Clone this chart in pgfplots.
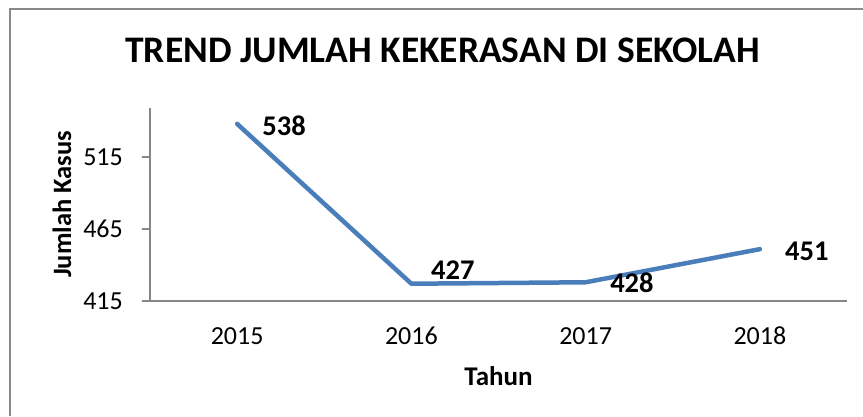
\documentclass[border=0pt]{standalone}
\usepackage{pgfplots}
\pgfplotsset{compat=1.18}
\usepackage{pgfplotstable}
\usepackage{fontspec}
\setmainfont{Carlito}
\definecolor{seriesblue}{HTML}{4A7EBB}
\definecolor{axisgray}{HTML}{868686}
\definecolor{framegray}{HTML}{898989}
\pgfplotstableread{
x y dx dy
0 538 23 -2
1 427 17.6 13.5
2 428 22.4 -0.7
3 451 23 -2.6
}\datatable
\begin{document}
\begin{tikzpicture}
\useasboundingbox (0,0) rectangle (863pt,-416pt);
\draw[framegray, line width=2pt] (10pt,-416pt) -- (10pt,-9pt) -- (863pt,-9pt);
\begin{axis}[
  at={(150pt,-301pt)}, anchor=south west,
  width=697pt, height=193pt, scale only axis,
  xmin=-0.5, xmax=3.5, ymin=415, ymax=549,
  xtick={0,1,2,3}, xticklabels={2015,2016,2017,2018},
  ytick={415,465,515},
  axis x line*=bottom, axis y line*=left,
  axis line style={axisgray, line width=1.5pt},
  tick align=outside, major tick length=8pt,
  ytick style={axisgray, line width=1.5pt},
  xtick style={draw=none},
  /pgf/number format/assume math mode=true,
  ticklabel style={font=\fontsize{26}{30}\selectfont},
  yticklabel style={inner sep=0pt, xshift=-19pt},
  xticklabel style={inner sep=0pt, yshift=-18pt},
  title={TREND JUMLAH KEKERASAN DI SEKOLAH},
  title style={at={(axis description cs:0.4197,1.2668)}, anchor=center, inner sep=0pt, font=\fontsize{37.5}{42}\selectfont\bfseries},
  xlabel={Tahun},
  xlabel style={at={(axis description cs:0.5,-0.3886)}, anchor=center, inner sep=0pt, font=\fontsize{27}{30}\selectfont\bfseries},
  ylabel={Jumlah Kasus},
  ylabel style={at={(axis description cs:-0.1263,0.5)}, anchor=center, inner sep=0pt, font=\fontsize{26.5}{30}\selectfont\bfseries},
  clip=false,
]
\addplot[seriesblue, line width=4.5pt, line join=round, line cap=round,
  nodes near coords,
  visualization depends on={\thisrow{dx} \as \dx},
  visualization depends on={\thisrow{dy} \as \dy},
  nodes near coords style={anchor=west, inner sep=0pt, black, font=\fontsize{28.5}{32}\selectfont\bfseries, xshift=\dx pt, yshift=\dy pt},
  point meta=explicit symbolic,
] table[x=x, y=y, meta=y] {\datatable};
\end{axis}
\end{tikzpicture}
\end{document}
